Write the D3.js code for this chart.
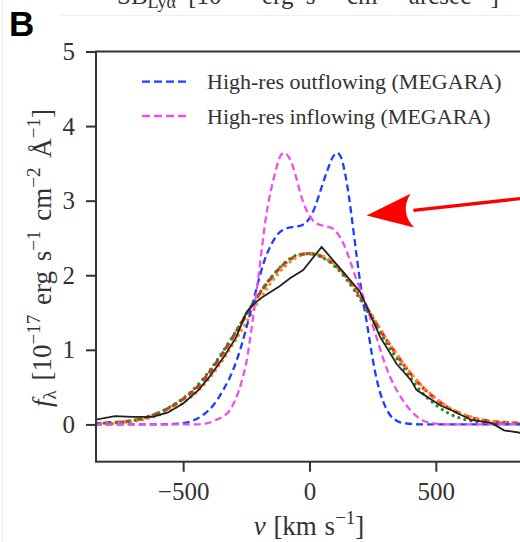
<!DOCTYPE html>
<html><head><meta charset="utf-8">
<script src="https://cdn.jsdelivr.net/npm/d3@7"></script>
<style>body{margin:0;background:#fff}svg{display:block}</style>
</head><body>
<svg id="c" width="520" height="542"></svg>
<script>
// ---------- data ----------
const xTicks = [-500, 0, 500];
const yTicks = [0, 1, 2, 3, 4, 5];
const xDomain = [-845, 845];
const yDomain = [-0.5, 5];

// observed spectrum (black solid)
const obsV = [-850,-770,-700,-620,-560,-500,-440,-400,-340,-290,-250,-225,-190,-120,-77,-25,48,200,250,280,320,345,400,424,470,520,556,640,720,770,850];
const obsF = [0.06,0.11,0.10,0.10,0.16,0.28,0.46,0.62,0.90,1.17,1.50,1.60,1.70,1.85,1.96,2.07,2.38,1.78,1.40,1.17,0.95,0.81,0.60,0.46,0.36,0.25,0.20,0.06,0.02,-0.08,-0.12];

// model grid
const modelV = [-850,-800,-750,-700,-650,-600,-550,-500,-450,-400,-350,-300,-250,-200,-150,-100,-50,0,50,100,150,200,250,300,350,400,450,500,550,600,650,700,750,800,850];
const redF    = [0.01,0.02,0.03,0.05,0.09,0.15,0.23,0.34,0.48,0.68,0.92,1.19,1.47,1.74,1.97,2.15,2.26,2.29,2.25,2.14,1.96,1.72,1.43,1.16,0.91,0.68,0.49,0.34,0.22,0.14,0.08,0.05,0.03,0.02,0.01];
const orangeF = [0.01,0.01,0.02,0.04,0.07,0.12,0.19,0.29,0.42,0.60,0.83,1.09,1.37,1.66,1.91,2.11,2.24,2.29,2.26,2.15,1.97,1.73,1.45,1.17,0.92,0.69,0.50,0.35,0.23,0.15,0.09,0.05,0.03,0.02,0.01];
const greenF  = [0.01,0.02,0.03,0.05,0.09,0.15,0.24,0.35,0.50,0.70,0.94,1.20,1.48,1.75,1.98,2.16,2.27,2.29,2.24,2.12,1.93,1.68,1.40,1.12,0.86,0.62,0.41,0.26,0.15,0.08,0.04,0.02,0.01,0.01,0.00];

// high-res outflowing (blue dashed)
const outV = [-850,-600,-520,-470,-420,-380,-340,-300,-270,-240,-210,-180,-150,-120,-90,-60,-30,-5,20,45,70,95,110,125,140,155,170,185,200,215,230,245,260,280,300,320,345,380,450,850];
const outF = [0,0,0.01,0.04,0.13,0.26,0.47,0.75,1.05,1.42,1.82,2.18,2.42,2.57,2.63,2.65,2.67,2.74,2.90,3.15,3.40,3.60,3.64,3.58,3.38,3.08,2.70,2.30,1.92,1.60,1.30,0.98,0.70,0.42,0.24,0.12,0.05,0.015,0,0];

// high-res inflowing (magenta dashed)
const inV = [-850,-450,-400,-370,-340,-315,-295,-280,-265,-250,-235,-220,-205,-190,-175,-160,-145,-130,-115,-100,-85,-70,-55,-40,-25,-10,10,30,60,90,115,135,160,185,205,225,245,265,290,320,350,385,420,450,500,550,850];
const inF = [0,0,0.02,0.06,0.11,0.19,0.32,0.45,0.62,0.83,1.15,1.52,1.90,2.32,2.72,3.02,3.25,3.45,3.60,3.64,3.60,3.50,3.34,3.15,2.98,2.86,2.75,2.69,2.66,2.63,2.54,2.42,2.20,1.95,1.78,1.60,1.38,1.17,0.90,0.63,0.43,0.25,0.12,0.05,0.01,0,0];

const legendLabels = ["High-res outflowing (MEGARA)", "High-res inflowing (MEGARA)"];
const legendColors = ["#1f3dff", "#ee4fee"];

// annotation arrow (data coords): tip and a point far along the shaft
const arrowTip = [226, 2.80];
const arrowTail = [1000, 3.09];

// ---------- layout ----------
const svg = d3.select("#c");
const L = 96, R = 523, T = 51.5, B = 461.7;
const x = d3.scaleLinear().domain(xDomain).range([L, R]);
const y = d3.scaleLinear().domain(yDomain).range([B, T]);
const serif = "'Liberation Serif', 'Times New Roman', serif";

// faint panel borders
svg.append("line").attr("x1", 2.5).attr("x2", 2.5).attr("y1", 0).attr("y2", 542).attr("stroke", "#ececec").attr("stroke-width", 1);
svg.append("line").attr("x1", 60).attr("x2", 520).attr("y1", 15.5).attr("y2", 15.5).attr("stroke", "#efefef").attr("stroke-width", 1);

// top partial label (cropped at the top edge, as in the reference)
const topLab = svg.append("text").attr("x", 117).attr("y", 4).attr("font-family", serif).attr("font-size", 25)
  .attr("fill", "#333").attr("word-spacing", 6);
topLab.append("tspan").text("SB");
topLab.append("tspan").attr("font-size", 18).attr("dy", 4).text("Lyα");
topLab.append("tspan").attr("dy", -4).text(" [10");
topLab.append("tspan").attr("font-size", 18).attr("dy", -10).text("−18");
topLab.append("tspan").attr("dy", 10).text(" erg s");
topLab.append("tspan").attr("font-size", 18).attr("dy", -10).text("−1");
topLab.append("tspan").attr("dy", 10).text(" cm");
topLab.append("tspan").attr("font-size", 18).attr("dy", -10).text("−2");
topLab.append("tspan").attr("dy", 10).text(" arcsec");
topLab.append("tspan").attr("font-size", 18).attr("dy", -10).text("−2");
topLab.append("tspan").attr("dy", 10).text("]");

// panel letter
svg.append("text").attr("x", 9).attr("y", 36).attr("font-family", "'Liberation Sans', Arial, sans-serif")
  .attr("font-weight", "bold").attr("font-size", 35).attr("fill", "#000").text("B");

// clip
svg.append("clipPath").attr("id", "clip").append("rect").attr("x", L).attr("y", T).attr("width", R - L).attr("height", B - T);
const plot = svg.append("g").attr("clip-path", "url(#clip)");

const smooth = d3.line().x(d => x(d[0])).y(d => y(d[1])).curve(d3.curveMonotoneX);
const straight = d3.line().x(d => x(d[0])).y(d => y(d[1]));
const zip = (a, b) => a.map((v, i) => [v, b[i]]);

plot.append("path").attr("d", smooth(zip(modelV, redF))).attr("fill", "none")
  .attr("stroke", "#f4261c").attr("stroke-width", 3.2).attr("stroke-dasharray", "6.5,3.5");
plot.append("path").attr("d", smooth(zip(modelV, orangeF))).attr("fill", "none")
  .attr("stroke", "#ff8c1a").attr("stroke-width", 3.2).attr("stroke-linecap", "round").attr("stroke-dasharray", "0.01,6");
plot.append("path").attr("d", smooth(zip(modelV, greenF))).attr("fill", "none")
  .attr("stroke", "#2f8a2f").attr("stroke-width", 3.2).attr("stroke-linecap", "round").attr("stroke-dasharray", "0.01,6.2").attr("stroke-dashoffset", 3);
plot.append("path").attr("d", smooth(zip(outV, outF))).attr("fill", "none")
  .attr("stroke", legendColors[0]).attr("stroke-width", 2.3).attr("stroke-dasharray", "7,4");
plot.append("path").attr("d", smooth(zip(inV, inF))).attr("fill", "none")
  .attr("stroke", legendColors[1]).attr("stroke-width", 2.3).attr("stroke-dasharray", "7,4");
plot.append("path").attr("d", straight(zip(obsV, obsF))).attr("fill", "none")
  .attr("stroke", "#222").attr("stroke-width", 1.8).attr("stroke-linejoin", "miter");

// axes
const ax = svg.append("g").attr("transform", `translate(0,${B})`)
  .call(d3.axisBottom(x).tickValues(xTicks).tickFormat(d3.format("d")).tickSize(10).tickPadding(11).tickSizeOuter(0));
const ay = svg.append("g").attr("transform", `translate(${L},0)`)
  .call(d3.axisLeft(y).tickValues(yTicks).tickFormat(d3.format("d")).tickSize(10).tickPadding(11).tickSizeOuter(0));
[ax, ay].forEach(g => {
  g.select(".domain").remove();
  g.selectAll(".tick line").attr("stroke", "#333").attr("stroke-width", 2);
  g.selectAll(".tick text").attr("font-family", serif).attr("font-size", 25).attr("fill", "#333");
});
// frame
svg.append("rect").attr("x", L).attr("y", T).attr("width", R - L).attr("height", B - T)
  .attr("fill", "none").attr("stroke", "#333").attr("stroke-width", 2);

// legend
legendLabels.forEach((lab, i) => {
  const ly = 81.7 + i * 34.3;
  svg.append("line").attr("x1", 142).attr("x2", 187).attr("y1", ly).attr("y2", ly)
    .attr("stroke", legendColors[i]).attr("stroke-width", 2.3).attr("stroke-dasharray", "8,4");
  svg.append("text").attr("x", 207).attr("y", ly + 7.5).attr("font-family", serif).attr("font-size", 22)
    .attr("fill", "#333").text(lab);
});

// axis labels
const xl = svg.append("text").attr("x", 309).attr("y", 535).attr("text-anchor", "middle")
  .attr("font-family", serif).attr("font-size", 27).attr("fill", "#333").attr("word-spacing", 1);
xl.append("tspan").attr("font-style", "italic").text("v");
xl.append("tspan").text(" [km s");
xl.append("tspan").attr("font-size", 19).attr("dy", -11).text("−1");
xl.append("tspan").attr("dy", 11).text("]");

const yl = svg.append("text").attr("transform", "translate(51,258) rotate(-90)").attr("text-anchor", "middle")
  .attr("font-family", serif).attr("font-size", 27).attr("fill", "#333").attr("word-spacing", 3);
yl.append("tspan").attr("font-style", "italic").text("f");
yl.append("tspan").attr("font-size", 19).attr("dy", 5).text("λ");
yl.append("tspan").attr("dy", -5).text(" [10");
yl.append("tspan").attr("font-size", 19).attr("dy", -11).text("−17");
yl.append("tspan").attr("dy", 11).text(" erg s");
yl.append("tspan").attr("font-size", 19).attr("dy", -11).text("−1");
yl.append("tspan").attr("dy", 11).text(" cm");
yl.append("tspan").attr("font-size", 19).attr("dy", -11).text("−2");
yl.append("tspan").attr("dy", 11).text(" Å");
yl.append("tspan").attr("font-size", 19).attr("dy", -11).text("−1");
yl.append("tspan").attr("dy", 11).text("]");

// red arrow annotation
const tx = x(arrowTip[0]), ty = y(arrowTip[1]);
const ex = x(arrowTail[0]), ey = y(arrowTail[1]);
const len = Math.hypot(ex - tx, ey - ty);
const ux = (ex - tx) / len, uy = (ey - ty) / len;
const nx = -uy, ny = ux;
const hl = 46, hw = 17;
const p = (a, b) => [tx + a * ux + b * nx, ty + a * uy + b * ny];
const c1 = p(hl, -hw), c2 = p(hl, hw), cc = p(33, 0);
svg.append("line").attr("x1", p(47, 0)[0]).attr("y1", p(47, 0)[1]).attr("x2", ex).attr("y2", ey)
  .attr("stroke", "#ff0000").attr("stroke-width", 3.3);
svg.append("path").attr("d", `M${tx},${ty}L${c1[0]},${c1[1]}Q${cc[0]},${cc[1]} ${c2[0]},${c2[1]}Z`)
  .attr("fill", "#ff0000");
</script>
</body></html>
